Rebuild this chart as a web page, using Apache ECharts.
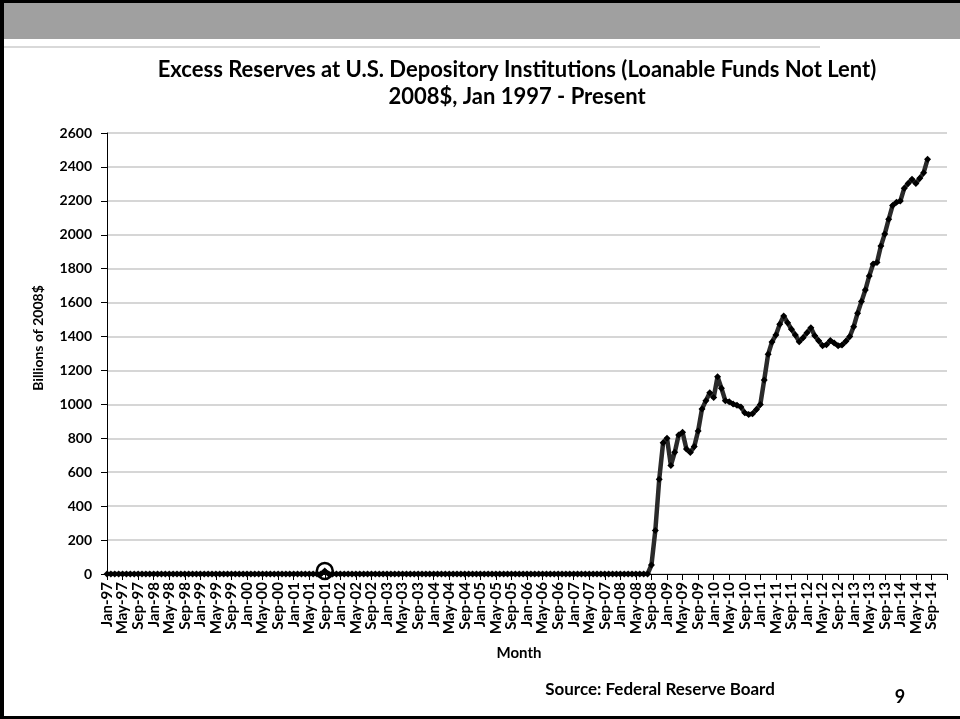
<!DOCTYPE html>
<html>
<head>
<meta charset="utf-8">
<script src="https://cdn.jsdelivr.net/npm/echarts/dist/echarts.min.js"></script>
<style>
  html, body { margin: 0; padding: 0; background: #ffffff; }
  #chart { width: 960px; height: 719px; }
</style>
</head>
<body>
<div id="chart"></div>
<script>
// Month labels along the category axis: Jan-97 through Jan-15
const MONTH_NAMES = ['Jan', 'Feb', 'Mar', 'Apr', 'May', 'Jun', 'Jul', 'Aug', 'Sep', 'Oct', 'Nov', 'Dec'];
const FIRST_YEAR = 1997;
const LAST_FULL_YEAR = 2014;
const categories = [];
for (let y = FIRST_YEAR; y <= LAST_FULL_YEAR; y++) {
  for (const m of MONTH_NAMES) categories.push(m + '-' + String(y).slice(2));
}
categories.push('Jan-15');

// Excess reserves, billions of 2008$, Jan-97 .. Aug-08 (one row per year)
const preCrisisReserves = [
  0, 0, 0, 0, 0, 0, 0, 0, 0, 0, 0, 0,   // 1997
  0, 0, 0, 0, 0, 0, 0, 0, 0, 0, 0, 0,   // 1998
  0, 0, 0, 0, 0, 0, 0, 0, 0, 0, 0, 0,   // 1999
  0, 0, 0, 0, 0, 0, 0, 0, 0, 0, 0, 0,   // 2000
  0, 0, 0, 0, 0, 0, 0, 0, 18, 0, 0, 0,  // 2001
  0, 0, 0, 0, 0, 0, 0, 0, 0, 0, 0, 0,   // 2002
  0, 0, 0, 0, 0, 0, 0, 0, 0, 0, 0, 0,   // 2003
  0, 0, 0, 0, 0, 0, 0, 0, 0, 0, 0, 0,   // 2004
  0, 0, 0, 0, 0, 0, 0, 0, 0, 0, 0, 0,   // 2005
  0, 0, 0, 0, 0, 0, 0, 0, 0, 0, 0, 0,   // 2006
  0, 0, 0, 0, 0, 0, 0, 0, 0, 0, 0, 0,   // 2007
  0, 0, 0, 0, 0, 0, 0, 0                // 2008 Jan-Aug
];

// Sep-08 .. Aug-14
const postCrisisReserves = [
  53, 257, 558, 774,                                                    // 2008 Sep-Dec
  800, 640, 718, 820, 835, 737, 717, 751, 843, 973, 1022, 1069,          // 2009
  1040, 1163, 1095, 1022, 1016, 1002, 995, 985, 950, 940, 945, 970,      // 2010
  1000, 1144, 1295, 1368, 1409, 1472, 1521, 1482, 1443, 1409, 1370, 1393, // 2011
  1423, 1452, 1405, 1375, 1346, 1352, 1376, 1362, 1346, 1350, 1372, 1400, // 2012
  1458, 1537, 1606, 1674, 1757, 1828, 1836, 1934, 2005, 2091, 2172, 2191, // 2013
  2199, 2274, 2303, 2327, 2303, 2333, 2366, 2445                          // 2014 Jan-Aug
];

const excessReserves = preCrisisReserves.concat(postCrisisReserves);

// Month highlighted with a ring on the chart
const highlightedMonth = 'Sep-01';

const FONT = 'Lato, "Open Sans", sans-serif';

const chart = echarts.init(document.getElementById('chart'), null, { renderer: 'canvas' });

chart.setOption({
  animation: false,
  backgroundColor: '#ffffff',
  grid: { left: 107, right: 13, top: 133, bottom: 145, containLabel: false },
  xAxis: {
    type: 'category',
    data: categories,
    boundaryGap: false,
    axisLine: { show: true, lineStyle: { color: '#000', width: 1 } },
    axisTick: { show: true, interval: 3, length: 6, lineStyle: { color: '#000', width: 1 } },
    axisLabel: {
      interval: 3,
      rotate: 90,
      margin: 8,
      color: '#000',
      fontFamily: FONT,
      fontWeight: 'bold',
      fontSize: 15,
      formatter: v => (v === 'Jan-15' ? '' : v)
    },
    splitLine: { show: false }
  },
  yAxis: {
    type: 'value',
    min: 0,
    max: 2600,
    interval: 200,
    axisLine: { show: true, lineStyle: { color: '#000', width: 1 } },
    axisTick: { show: true, length: 6, lineStyle: { color: '#000', width: 1 } },
    axisLabel: {
      margin: 15,
      color: '#000',
      fontFamily: FONT,
      fontWeight: 'bold',
      fontSize: 14,
      formatter: v => String(v)
    },
    splitLine: { show: true, lineStyle: { color: '#c8c8c8', width: 1.5 } }
  },
  series: [{
    type: 'line',
    data: excessReserves,
    showAllSymbol: true,
    symbol: 'diamond',
    symbolSize: 7,
    lineStyle: { color: '#2a2a2a', width: 4.5 },
    itemStyle: { color: '#000' },
    markPoint: {
      symbol: 'circle',
      symbolSize: 16,
      label: { show: false },
      itemStyle: { color: 'rgba(0,0,0,0)', borderColor: '#000', borderWidth: 2.5 },
      data: [{ coord: [highlightedMonth, excessReserves[categories.indexOf(highlightedMonth)]] }]
    }
  }],
  graphic: [
    { type: 'rect', shape: { x: 0, y: 0, width: 960, height: 39 }, style: { fill: '#a0a0a0' }, z: 1 },
    { type: 'rect', shape: { x: 0, y: 0, width: 960, height: 3 }, style: { fill: '#000' }, z: 2 },
    { type: 'rect', shape: { x: 0, y: 0, width: 4, height: 719 }, style: { fill: '#000' }, z: 2 },
    { type: 'rect', shape: { x: 0, y: 716, width: 960, height: 3 }, style: { fill: '#000' }, z: 2 },
    { type: 'rect', shape: { x: 4, y: 46, width: 816, height: 2 }, style: { fill: '#d9d9d9' }, z: 1 },
    {
      type: 'text', x: 517, y: 70,
      style: {
        text: 'Excess Reserves at U.S. Depository Institutions (Loanable Funds Not Lent)',
        font: 'bold 22px ' + FONT, fill: '#000', textAlign: 'center', textVerticalAlign: 'middle'
      }
    },
    {
      type: 'text', x: 517, y: 97,
      style: {
        text: '2008$, Jan 1997 - Present',
        font: 'bold 22px ' + FONT, fill: '#000', textAlign: 'center', textVerticalAlign: 'middle'
      }
    },
    {
      type: 'text', x: 38, y: 338, rotation: Math.PI / 2,
      style: {
        text: 'Billions of 2008$',
        font: 'bold 14px ' + FONT, fill: '#000', textAlign: 'center', textVerticalAlign: 'middle'
      }
    },
    {
      type: 'text', x: 519, y: 653,
      style: {
        text: 'Month',
        font: 'bold 15px ' + FONT, fill: '#000', textAlign: 'center', textVerticalAlign: 'middle'
      }
    },
    {
      type: 'text', x: 660, y: 690,
      style: {
        text: 'Source: Federal Reserve Board',
        font: 'bold 17px ' + FONT, fill: '#000', textAlign: 'center', textVerticalAlign: 'middle'
      }
    },
    {
      type: 'text', x: 900, y: 697,
      style: {
        text: '9',
        font: 'bold 18px ' + FONT, fill: '#000', textAlign: 'center', textVerticalAlign: 'middle'
      }
    }
  ]
});
</script>
</body>
</html>
